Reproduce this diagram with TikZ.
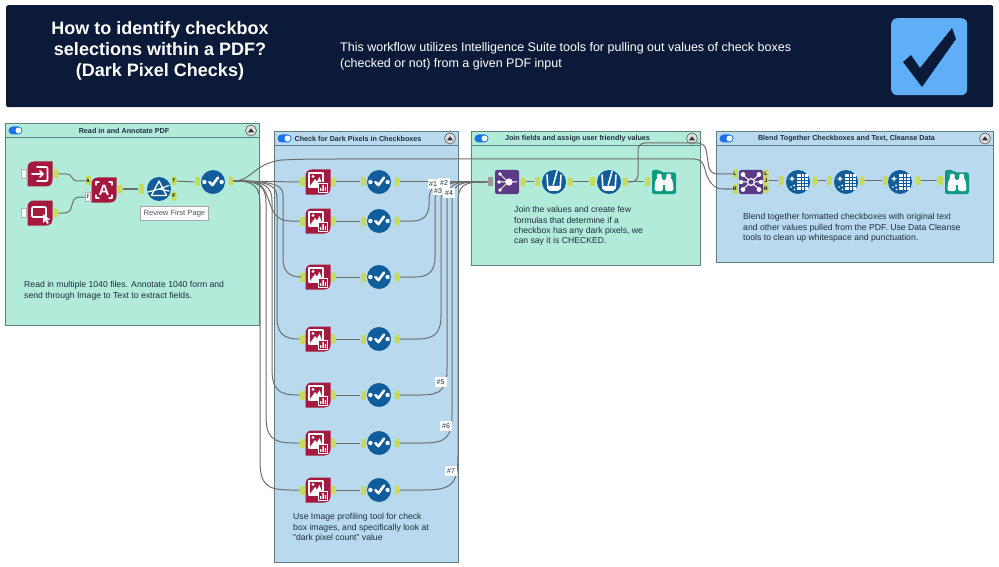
\documentclass[tikz,border=0pt]{standalone}
\usepackage{fontspec}
\setmainfont{Liberation Sans}
\usetikzlibrary{calc}
\definecolor{navy}{HTML}{0B1A38}
\definecolor{boxblue}{HTML}{5FAEF8}
\definecolor{mintpanel}{HTML}{B2EBDA}
\definecolor{skypanel}{HTML}{B9D9EE}
\definecolor{panelline}{HTML}{5F7F80}
\definecolor{crimson}{HTML}{A6193F}
\definecolor{toolblue}{HTML}{115C9A}
\definecolor{toolpurple}{HTML}{5C3A87}
\definecolor{toolteal}{HTML}{0F9A82}
\definecolor{anchorlime}{HTML}{C6DB5E}
\definecolor{wiregrey}{HTML}{6E6E6E}
\definecolor{bodyink}{HTML}{1E2E40}
\definecolor{toggleblue}{HTML}{1C73E8}
\tikzset{
  panelbox/.style={draw=panelline,line width=1.4pt},
  paneltitle/.style={font=\bfseries\fontsize{7.2}{9}\selectfont,text=bodyink,inner sep=0pt},
  panelnote/.style={font=\fontsize{8.65}{10.3}\selectfont,text=bodyink,align=left,anchor=north west,inner sep=0pt},
  wire/.style={draw=wiregrey,line width=1pt},
  toolslot/.style={rectangle,minimum size=24pt,inner sep=0pt},
  portin/.style={rectangle,fill=anchorlime,minimum width=5pt,minimum height=9pt,inner sep=0pt,font=\bfseries\fontsize{5}{5}\selectfont},
  portout/.style={rectangle,rounded corners=2pt,fill=anchorlime,minimum width=5pt,minimum height=9pt,inner sep=0pt,font=\bfseries\fontsize{5}{5}\selectfont},
  portwhite/.style={portin,fill=white,draw=gray!60,line width=0.4pt},
  portgrey/.style={portin,fill=gray!80},
  badge/.style={fill=white,inner sep=1.5pt,minimum width=12pt,minimum height=10pt,font=\fontsize{7}{7}\selectfont,text=bodyink},
  glyphline/.style={draw=white,line width=1.6pt,line join=round,line cap=round},
  leaftile/.pic={\fill[crimson] (12.5,-12.5) -- (-6,-12.5) .. controls (-10,-12.5) and (-12.5,-10) .. (-12.5,-6) -- (-12.5,12.5) -- (6,12.5) .. controls (10,12.5) and (12.5,10) .. (12.5,6) -- cycle;},
  inputglyph/.pic={\pic{leaftile};
    \draw[glyphline,rounded corners=1pt] (-3,-7) -- (7.5,-7) -- (7.5,7) -- (-3,7);
    \draw[glyphline] (-8,0) -- (3,0) (0,-3) -- (3,0) -- (0,3);},
  pointerglyph/.pic={\pic{leaftile};
    \draw[glyphline,rounded corners=1pt] (-8,-6) rectangle (6,4);
    \fill[white] (3,1) -- (3,10) -- (5.4,7.8) -- (7.2,11) -- (8.8,10) -- (7.2,7) -- (10,6.5) -- cycle;},
  annotateglyph/.pic={\pic{leaftile};
    \node[text=white,font=\bfseries\fontsize{15}{15}\selectfont,inner sep=0pt] at (0,0) {A};
    \draw[glyphline,line width=1.2pt] (-8,-5) -- (-8,-8) -- (-5,-8) (5,-8) -- (8,-8) -- (8,-5)
      (8,5) -- (8,8) -- (5,8) (-5,8) -- (-8,8) -- (-8,5);},
  imageglyph/.pic={\pic{leaftile};
    \draw[glyphline,line width=1.5pt] (-9,-9) rectangle (5,5);
    \fill[white] (-8,4) -- (-3,-3) -- (-1,-0.5) -- (1.5,-5) -- (5,4) -- cycle;
    \fill[white] (-5,-5.6) circle[radius=1.6pt];
    \fill[crimson] (-0.5,0.5) rectangle (10.5,11);
    \draw[white,line width=0.9pt] (0.4,1.4) rectangle (9.6,10.2);
    \fill[white] (2,8.8) rectangle (3.4,6) (4.4,8.8) rectangle (5.8,3) (6.8,8.8) rectangle (8.2,5);},
  toolcircle/.pic={\fill[toolblue] (0,0) circle[radius=12pt];},
  checkglyph/.pic={\pic{toolcircle};
    \fill[white] (-8.6,0) circle[radius=2.2pt] (8.6,0) circle[radius=2.2pt];
    \draw[glyphline,line width=2.6pt] (-3.6,0) -- (-0.6,3.2) -- (5,-4.4);},
  prismglyph/.pic={\pic{toolcircle};
    \draw[glyphline,line width=1.4pt] (0,-8) -- (-7.5,6.5) -- (7.5,6.5) -- cycle;
    \draw[glyphline,line width=1.2pt] (-11,3) -- (0,0) -- (10,-3.5) (0,0) -- (10,2);},
  formulaglyph/.pic={\pic{toolcircle};
    \draw[glyphline,rounded corners=2pt] (-7,-7) -- (-6,8) -- (6,8) -- (7,-7);
    \fill[white,rounded corners=1pt] (-5.8,4) -- (-5.6,8) -- (5.6,8) -- (5.8,4) -- cycle;
    \draw[glyphline] (3,-10.5) -- (-0.8,3);},
  cleanseglyph/.pic={\pic{toolcircle};
    \fill[white] (-1,-8) rectangle (9.5,8);
    \draw[toolblue,line width=0.6pt] (-1,-4.8) -- (9.5,-4.8) (-1,-1.6) -- (9.5,-1.6) (-1,1.6) -- (9.5,1.6) (-1,4.8) -- (9.5,4.8) (3,-8) -- (3,8) (6.4,-8) -- (6.4,8);
    \fill[white] (-6,-6.5) -- (-5.2,-4) -- (-2.8,-3.2) -- (-5.2,-2.4) -- (-6,0) -- (-6.8,-2.4) -- (-9.2,-3.2) -- (-6.8,-4) -- cycle;
    \fill[white] (-4,3.5) circle[radius=1.1pt] (-7,5) circle[radius=0.9pt] (-3.5,7.5) circle[radius=0.8pt];},
  uniontile/.pic={\fill[toolpurple,rounded corners=2pt] (-12,-12) rectangle (12,12);
    \draw[white,line width=1pt] (-7,-8) -- (1,0) (-8,0) -- (1,0) (-7,8) -- (1,0) (1,0) -- (10,0);
    \fill[white] (-7,-8) circle[radius=1.9pt] (-8,0) circle[radius=1.9pt] (-7,8) circle[radius=1.9pt] (2,0) circle[radius=3.6pt];},
  jointile/.pic={\fill[toolpurple,rounded corners=2pt] (-12,-12) rectangle (12,12);
    \draw[white,line width=1pt] (-8,-7) -- (8,7) (8,-7) -- (-8,7) (-10,0) -- (10,0);
    \fill[toolpurple] (0,0) circle[radius=4pt];
    \draw[white,line width=1.3pt] (0,0) circle[radius=3.4pt];
    \fill[white] (-8,-7.5) circle[radius=2.4pt] (8,-7.5) circle[radius=2.4pt] (-8,7.5) circle[radius=2.4pt] (8,7.5) circle[radius=2.4pt] (-10,0) circle[radius=2.2pt] (10,0) circle[radius=2.2pt];},
  browsetile/.pic={\fill[toolteal,rounded corners=2pt] (-12,-12) -- (-4,-12) -- (-2,-9.5) -- (12,-9.5) -- (12,12) -- (-12,12) -- cycle;
    \fill[white,rounded corners=1pt] (-7.2,-8) rectangle (-2.4,-3) (2.4,-8) rectangle (7.2,-3);
    \fill[white,rounded corners=1.5pt] (-9.5,9) -- (-9,1) -- (-7.5,-4) -- (-1.2,-4) -- (-1.2,9) -- cycle;
    \fill[white,rounded corners=1.5pt] (9.5,9) -- (9,1) -- (7.5,-4) -- (1.2,-4) -- (1.2,9) -- cycle;
    \fill[white] (-1.5,-2) rectangle (1.5,3);},
}
% horizontal run into a long vertical at x=#3, then into a tool's left side
\newcommand{\fandown}[4]{\draw[wire] let \p1=(#1.east),\p2=(#2.west) in
  (\p1) .. controls (#3pt-6pt,\y1) and (#3pt,\y1-5pt) .. (#3pt,\y1-#4pt*0.8)
  -- (#3pt,\y2+#4pt) .. controls (#3pt,\y2+6pt) and (#3pt+6pt,\y2) .. (#3pt+#4pt,\y2) -- (\p2);}
% tool's right side into a long vertical at x=#3, then over to a shared input
\newcommand{\fanup}[4]{\draw[wire] let \p1=(#1.east),\p2=(#2.west) in
  (\p1) -- (#3pt-#4pt,\y1) .. controls (#3pt-6pt,\y1) and (#3pt,\y1+6pt) .. (#3pt,\y1+#4pt)
  -- (#3pt,\y2-20pt) .. controls (#3pt,\y2-4pt) and (#3pt+6pt,\y2) .. (#3pt+24pt,\y2) -- (\p2);}
% panel frame with its caption strip, switch and collapse button
\newcommand{\panelframe}[7]{%
  \node[panelbox,fill=#6,rectangle,inner sep=0pt,anchor=north west,minimum width=#4pt-#2pt,minimum height=#5pt-#3pt] (#1) at (#2,#3) {};
  \draw[panelline,line width=1pt] (#2,#3+15) -- (#4,#3+15);
  \fill[toggleblue,rounded corners=4pt] (#2+3.5,#3+3.5) rectangle (#2+17.5,#3+11.5);
  \fill[white] (#2+13.5,#3+7.5) circle[radius=3pt];
  \fill[gray!25] (#4-8,#3+7.5) circle[radius=5.5pt];
  \draw[gray!70!black,line width=0.6pt] (#4-8,#3+7.5) circle[radius=5.5pt];
  \fill[black!80] (#4-11,#3+9.3) -- (#4-8,#3+5.3) -- (#4-5,#3+9.3) -- cycle;
  \node[paneltitle] (#1-title) at ({(#2+#4)/2-8},#3+7.5) {#7};}
% tool slot with its icon
\newcommand{\tool}[4]{\node[toolslot] (#1) at (#2,#3) {}; \pic at (#1) {#4};}
\begin{document}
\begin{tikzpicture}[x=1pt,y=-1pt]
\useasboundingbox (0,0) rectangle (999,567);
\fill[white] (0,0) rectangle (999,567);

% banner
\node[rectangle,fill=navy,rounded corners=2pt,anchor=north west,minimum width=987pt,minimum height=102pt,inner sep=0pt] (banner) at (6,5) {};
\node[text=white,font=\bfseries\fontsize{18}{21}\selectfont,align=center,inner sep=0pt] (headline) at (160,51) {How to identify checkbox\\selections within a PDF?\\(Dark Pixel Checks)};
\node[text=white,font=\fontsize{12.5}{16.2}\selectfont,align=left,anchor=west,inner sep=0pt] (intro) at (340,56) {This workflow utilizes Intelligence Suite tools for pulling out values of check boxes\\(checked or not) from a given PDF input};
\node[rectangle,fill=boxblue,rounded corners=6pt,anchor=north west,minimum width=76pt,minimum height=77pt,inner sep=0pt] (tickbox) at (891,18) {};
\fill[navy] (903,62) -- (911,55) -- (920,68) -- (952,28) -- (956,39) -- (922,87) -- cycle;

% panels
\panelframe{readpanel}{5}{123}{259}{325}{mintpanel}{Read in and Annotate PDF}
\panelframe{darkpanel}{274}{131}{458}{562}{skypanel}{Check for Dark Pixels in Checkboxes}
\panelframe{joinpanel}{471}{131}{700}{265}{mintpanel}{Join fields and assign user friendly values}
\panelframe{blendpanel}{716}{131}{993}{262}{skypanel}{Blend Together Checkboxes and Text, Cleanse Data}

% panel notes
\node[panelnote] (note1) at (24,281.5) {Read in multiple 1040 files. Annotate 1040 form and\\send through Image to Text to extract fields.};
\node[panelnote] (note2) at (293,513.5) {Use Image profiling tool for check\\box images, and specifically look at\\"dark pixel count" value};
\node[panelnote] (note3) at (514,206.5) {Join the values and create few\\formulas that determine if a\\checkbox has any dark pixels, we\\can say it is CHECKED.};
\node[panelnote] (note4) at (743,213.5) {Blend together formatted checkboxes with original text\\and other values pulled from the PDF. Use Data Cleanse\\tools to clean up whitespace and punctuation.};

% ports, read-in panel
\node[portwhite] (pA) at (24,174) {};
\node[portwhite] (pB) at (24,213) {};
\node[portout] (oA) at (56,174) {};
\node[portout] (oB) at (56,213) {};
\node[portin] (aA) at (88,181) {A};
\node[portwhite] (aT) at (88,197) {T};
\node[portout] (oAnn) at (120,189) {};
\node[portin] (iPr) at (141,189) {};
\node[portout] (prT) at (174,181) {T};
\node[portout] (prF) at (174,196) {F};
\node[portin] (iChk) at (197,182) {};
\node[portout] (oChk) at (231,181) {};

% ports, dark pixel rows
\foreach \rw/\yy in {1/182,2/221,3/277,4/339,5/395,6/443,7/490}{
  \node[portin] (imgin\rw) at (302,\yy) {};
  \node[portout] (imgout\rw) at (333,\yy) {};
  \node[portin] (ckin\rw) at (363,\yy) {};
  \node[portout] (ckout\rw) at (397,\yy) {};
}

% ports, join panel
\node[portgrey] (uIn) at (490,182) {};
\node[portout] (uOut) at (523,182) {};
\node[portin] (f1In) at (537,182) {};
\node[portout] (f1Out) at (570,182) {};
\node[portin] (f2In) at (592,182) {};
\node[portout] (f2Out) at (625,182) {};
\node[portin] (bIn) at (647,182) {};

% ports, blend panel
\node[portin] (jL) at (735,174) {L};
\node[portin] (jR) at (735,189) {R};
\node[portout] (joL) at (766,174) {L};
\node[portout] (joJ) at (766,181) {J};
\node[portout] (joR) at (766,189) {R};
\node[portin] (c1In) at (781,181) {};
\node[portout] (c1Out) at (815,181) {};
\node[portin] (c2In) at (829,181) {};
\node[portout] (c2Out) at (862,181) {};
\node[portin] (c3In) at (885,181) {};
\node[portout] (c3Out) at (918,181) {};
\node[portin] (b2In) at (940,181) {};

% connectors
\draw[wire] let \p1=(oA.east),\p2=(aA.west) in (\p1) -- (66pt,\y1) .. controls (74pt,\y1) and (70pt,\y2) .. (78pt,\y2) -- (\p2);
\draw[wire] let \p1=(oB.east),\p2=(aT.west) in (\p1) -- (64pt,\y1) .. controls (76pt,\y1) and (68pt,\y2) .. (80pt,\y2) -- (\p2);
\draw[wire] (oAnn) -- (iPr);
\draw[wire] (prT) -- (iChk);
\draw[wire] (oChk) -- (imgin1);
\draw[wire] let \p1=(oChk.east),\p2=(imgin2.west) in (\p1) -- (248pt,\y1) .. controls (276pt,\y1) and (262pt,\y2) .. (290pt,\y2) -- (\p2);
\fandown{oChk}{imgin3}{283}{18}
\fandown{oChk}{imgin4}{277}{22}
\fandown{oChk}{imgin5}{272}{26}
\fandown{oChk}{imgin6}{266}{28}
\fandown{oChk}{imgin7}{260}{30}
\foreach \rw in {1,...,7}{
  \draw[wire] (imgout\rw) -- (ckin\rw);
}
\draw[wire] (ckout1) -- (uIn);
\fanup{ckout2}{uIn}{429}{16}
\fanup{ckout3}{uIn}{435}{20}
\fanup{ckout4}{uIn}{441}{24}
\fanup{ckout5}{uIn}{447}{26}
\fanup{ckout6}{uIn}{452}{28}
\fanup{ckout7}{uIn}{458}{34}
\draw[wire] (uOut) -- (f1In);
\draw[wire] (f1Out) -- (f2In);
\draw[wire] (f2Out) -- (bIn);
% long runs across the top of the canvas into the join tool
\draw[wire,rounded corners=7pt] let \p1=(f2Out.east),\p2=(jL.west) in
  (\p1) -- (638pt,\y1) -- (638pt,-143pt) -- (705pt,-143pt) -- (710pt,\y2) -- (\p2);
\draw[wire] let \p1=(oChk.east),\p2=(jR.west) in
  (\p1) .. controls (252pt,\y1) and (254pt,-163pt) .. (282pt,-160pt) .. controls (300pt,-159pt) and (320pt,-159pt) .. (340pt,-159pt)
  -- (694pt,-159pt) .. controls (706pt,-159pt) and (704pt,-172pt) .. (708pt,-178pt) .. controls (712pt,\y2+3pt) and (716pt,\y2) .. (724pt,\y2) -- (\p2);
\draw[wire] (joJ) -- (c1In);
\draw[wire] (c1Out) -- (c2In);
\draw[wire] (c2Out) -- (c3In);
\draw[wire] (c3Out) -- (b2In);

% tools, read-in panel
\tool{inTool}{40}{174}{inputglyph}
\tool{ptrTool}{40}{213}{pointerglyph}
\tool{annTool}{104}{190}{annotateglyph}
\tool{prismTool}{159}{189}{prismglyph}
\tool{chkTool}{213}{182}{checkglyph}
\node[rectangle,draw=gray!70,fill=white,line width=0.8pt,anchor=north west,minimum width=68pt,minimum height=14pt,inner sep=1pt,font=\fontsize{7.6}{8}\selectfont,text=bodyink!80] (reviewtag) at (140,206) {Review First Page};

% tools, dark pixel rows
\foreach \rw/\yy in {1/182,2/221,3/277,4/339,5/395,6/443,7/490}{
  \tool{img\rw}{318}{\yy}{imageglyph}
  \tool{ck\rw}{379}{\yy}{checkglyph}
}

% tools, join panel
\tool{unionTool}{507}{182}{uniontile}
\tool{form1}{554}{182}{formulaglyph}
\tool{form2}{609}{182}{formulaglyph}
\tool{look1}{664}{182}{browsetile}

% tools, blend panel
\tool{joinTool}{751}{182}{jointile}
\tool{clean1}{798}{182}{cleanseglyph}
\tool{clean2}{846}{182}{cleanseglyph}
\tool{clean3}{900}{182}{cleanseglyph}
\tool{look2}{957}{182}{browsetile}

% wire tags
\node[badge,minimum width=9pt] (tag1) at (433,184) {\#1};
\node[badge] (tag2) at (444,183) {\#2};
\node[badge,minimum width=10pt,minimum height=8pt] (tag3) at (438,191) {\#3};
\node[badge] (tag4) at (449,193) {\#4};
\node[badge] (tag5) at (440.5,382) {\#5};
\node[badge] (tag6) at (446,426) {\#6};
\node[badge] (tag7) at (451,471) {\#7};
\end{tikzpicture}
\end{document}
